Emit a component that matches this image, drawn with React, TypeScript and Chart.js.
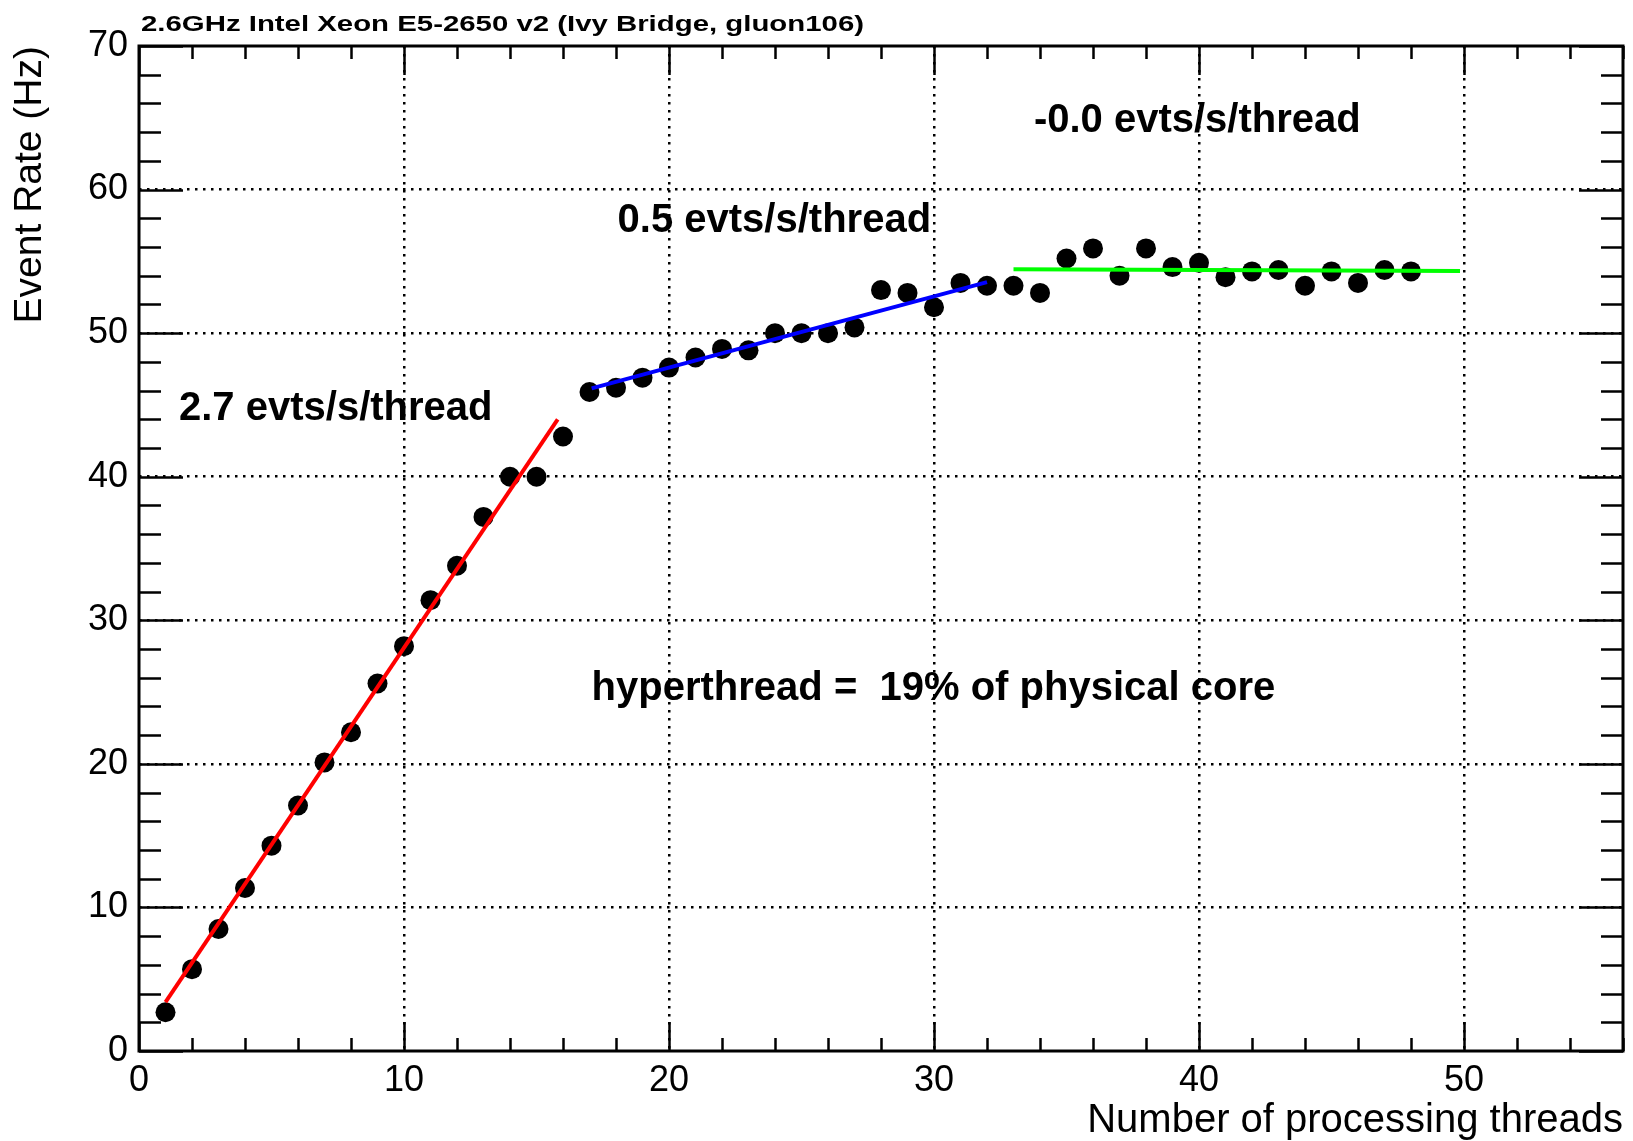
import { useEffect, useRef } from 'react';
import { Chart, registerables } from 'chart.js';

Chart.register(...registerables);

const FONT = "'Liberation Sans', Arimo, Helvetica, Arial, sans-serif";

const chartTitle = '2.6GHz Intel Xeon E5-2650 v2 (Ivy Bridge, gluon106)';
const xAxisTitle = 'Number of processing threads';
const yAxisTitle = 'Event Rate (Hz)';

const threads = [
  1, 2, 3, 4, 5, 6, 7, 8, 9, 10, 11, 12, 13, 14, 15, 16,
  17, 18, 19, 20, 21, 22, 23, 24, 25, 26, 27, 28, 29, 30, 31, 32,
  33, 34, 35, 36, 37, 38, 39, 40, 41, 42, 43, 44, 45, 46, 47, 48,
];
const eventRate = [
  2.7, 5.7, 8.5, 11.35, 14.3, 17.1, 20.1, 22.2, 25.6, 28.2, 31.4, 33.8, 37.2, 40.0, 40.0, 42.8,
  45.9, 46.2, 46.9, 47.6, 48.3, 48.9, 48.8, 50.0, 50.0, 50.0, 50.4, 53.0, 52.8, 51.8, 53.5, 53.3,
  53.3, 52.8, 55.2, 55.9, 54.0, 55.9, 54.6, 54.9, 53.9, 54.3, 54.4, 53.3, 54.3, 53.5, 54.4, 54.3,
];

const redFitX = [1.0, 15.8];
const redFitY = [3.4, 44.0];
const blueFitX = [17.08, 32.0];
const blueFitY = [46.15, 53.55];
const greenFitX = [33.0, 49.85];
const greenFitY = [54.45, 54.32];

const xTickValues = [0, 10, 20, 30, 40, 50];
const yTickValues = [0, 10, 20, 30, 40, 50, 60, 70];
const xMin = 0;
const xMax = 56;
const yMin = 0;
const yMax = 70;
const minorStep = 2;

const annotTexts = [
  '2.7 evts/s/thread',
  '0.5 evts/s/thread',
  '-0.0 evts/s/thread',
  'hyperthread =  19% of physical core',
];
const annotX = [1.51, 18.06, 33.77, 17.08];
const annotY = [43.95, 57.03, 64.0, 24.44];

function pairs(xs: number[], ys: number[]) {
  return xs.map((x, i) => ({ x, y: ys[i] }));
}

const rootStyle = {
  id: 'rootStyle',
  afterDraw(chart: any) {
    const { ctx, chartArea } = chart;
    const xs = chart.scales.x;
    const ys = chart.scales.y;
    const { left, right, top, bottom } = chartArea;
    ctx.save();
    // ticks
    ctx.strokeStyle = '#000';
    ctx.lineWidth = 2.5;
    ctx.beginPath();
    for (let v = xMin; v <= xMax + 1e-9; v += minorStep) {
      const px = Math.round(xs.getPixelForValue(v)) + 0.5;
      const major = v % 10 === 0;
      const len = major ? 29 : 13;
      ctx.moveTo(px, bottom);
      ctx.lineTo(px, bottom - len);
      ctx.moveTo(px, top);
      ctx.lineTo(px, top + len);
    }
    for (let v = yMin; v <= yMax + 1e-9; v += minorStep) {
      const py = Math.round(ys.getPixelForValue(v)) + 0.5;
      const major = v % 10 === 0;
      const len = major ? 44 : 22;
      ctx.moveTo(left, py);
      ctx.lineTo(left + len, py);
      ctx.moveTo(right, py);
      ctx.lineTo(right - len, py);
    }
    ctx.stroke();
    // frame
    ctx.lineWidth = 3;
    ctx.strokeRect(left, top, right - left, bottom - top);

    // title (stretched horizontally)
    ctx.fillStyle = '#000';
    ctx.font = `bold 22px ${FONT}`;
    ctx.textAlign = 'left';
    ctx.textBaseline = 'alphabetic';
    const w = ctx.measureText(chartTitle).width;
    const target = 723;
    ctx.save();
    ctx.translate(141, 31);
    ctx.scale(target / w, 1);
    ctx.fillText(chartTitle, 0, 0);
    ctx.restore();

    // annotations
    ctx.font = `bold 40px ${FONT}`;
    annotTexts.forEach((t, i) => {
      ctx.fillText(t, xs.getPixelForValue(annotX[i]), ys.getPixelForValue(annotY[i]));
    });
    ctx.restore();
  },
};

export default function App() {
  const ref = useRef<HTMLCanvasElement | null>(null);
  useEffect(() => {
    document.body.style.margin = '0';
    const canvas = ref.current;
    if (!canvas) return;
    Chart.defaults.font.family = FONT;
    Chart.defaults.color = '#000';
    const chart = new Chart(canvas, {
      type: 'scatter',
      data: {
        datasets: [
          {
            label: 'fit1',
            data: pairs(redFitX, redFitY),
            showLine: true,
            borderColor: '#ff0000',
            borderWidth: 4,
            pointRadius: 0,
            order: 0,
          },
          {
            label: 'fit2',
            data: pairs(blueFitX, blueFitY),
            showLine: true,
            borderColor: '#0000ff',
            borderWidth: 4,
            pointRadius: 0,
            order: 0,
          },
          {
            label: 'fit3',
            data: pairs(greenFitX, greenFitY),
            showLine: true,
            borderColor: '#00ff00',
            borderWidth: 4,
            pointRadius: 0,
            order: 0,
          },
          {
            label: 'rate',
            data: pairs(threads, eventRate),
            showLine: false,
            pointRadius: 10,
            pointHoverRadius: 10,
            pointBackgroundColor: '#000',
            pointBorderWidth: 0,
            borderColor: '#000',
            order: 1,
          },
        ],
      },
      options: {
        responsive: false,
        animation: false,
        events: [],
        layout: { padding: { left: 0, right: 10, top: 46, bottom: 0 } },
        plugins: {
          legend: { display: false },
          tooltip: { enabled: false },
          title: { display: false },
        },
        scales: {
          x: {
            type: 'linear',
            min: xMin,
            max: xMax,
            afterBuildTicks: (s: any) => {
              s.ticks = xTickValues.map((v) => ({ value: v }));
            },
            afterFit: (s: any) => {
              s.height = 90;
            },
            ticks: {
              font: { size: 36 },
              color: '#000',
              padding: 8,
              maxRotation: 0,
              autoSkip: false,
            },
            grid: {
              color: (c: any) => (c.tick && (c.tick.value === xMin) ? 'rgba(0,0,0,0)' : '#000'),
              lineWidth: 2.5,
              drawTicks: false,
            },
            border: { display: false, dash: [2.5, 5.5] },
            title: {
              display: true,
              text: xAxisTitle,
              align: 'end',
              font: { size: 40 },
              color: '#000',
              padding: { top: 0, bottom: -4 },
            },
          },
          y: {
            type: 'linear',
            min: yMin,
            max: yMax,
            afterBuildTicks: (s: any) => {
              s.ticks = yTickValues.map((v) => ({ value: v }));
            },
            afterFit: (s: any) => {
              s.width = 139;
            },
            ticks: {
              font: { size: 36 },
              color: '#000',
              padding: 11,
              autoSkip: false,
            },
            grid: {
              color: (c: any) =>
                c.tick && (c.tick.value === yMin || c.tick.value === yMax) ? 'rgba(0,0,0,0)' : '#000',
              lineWidth: 2.5,
              drawTicks: false,
            },
            border: { display: false, dash: [2.5, 5.5] },
            title: {
              display: true,
              text: yAxisTitle,
              align: 'end',
              font: { size: 39 },
              color: '#000',
              padding: { top: 7, bottom: 0 },
            },
          },
        },
      },
      plugins: [rootStyle],
    } as any);
    return () => chart.destroy();
  }, []);
  return (
    <div style={{ position: 'absolute', left: 0, top: 0, width: 1633, height: 1141, background: '#fff' }}>
      <canvas ref={ref} width={1633} height={1141} style={{ width: 1633, height: 1141, display: 'block' }} />
    </div>
  );
}
